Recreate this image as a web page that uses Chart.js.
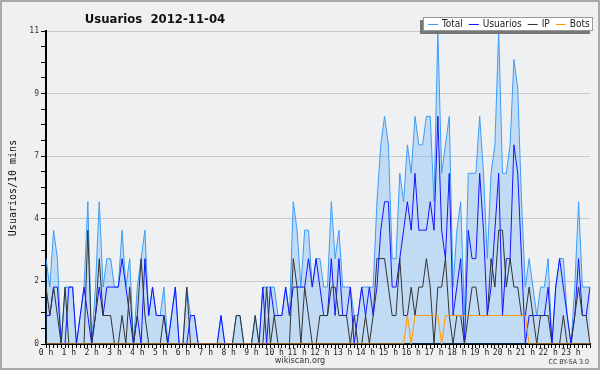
<!DOCTYPE html>
<html>
<head>
<meta charset="utf-8">
<script src="https://cdn.jsdelivr.net/npm/chart.js@4.4.0/dist/chart.umd.min.js"></script>
<style>
  html, body { margin: 0; padding: 0; background: #f0f0f0; }
  #wrap { width: 600px; height: 370px; }
</style>
</head>
<body>
<div id="wrap"><canvas id="chart" width="600" height="370"></canvas></div>
<script>
// values per 10 minutes, from 0h00 to 23h50
let hourLabels = ["0 h","1 h","2 h","3 h","4 h","5 h","6 h","7 h","8 h","9 h","10 h","11 h",
    "12 h","13 h","14 h","15 h","16 h","17 h","18 h","19 h","20 h","21 h","22 h","23 h"];

let total = [
    3,2,4,3,0,2,2,2,0,1, 2,5,0,2,5,2,3,3,2,2, 4,2,3,0,2,3,4,1,2,1,
    1,2,0,1,2,0,0,2,1,1, 0,0,0,0,0,0,1,0,0,0, 1,1,0,0,0,1,0,2,2,2,
    2,1,1,2,1,5,4,2,4,4, 2,3,3,2,2,5,3,4,2,2, 2,1,1,2,2,2,2,5,7,8,
    7,3,3,6,5,7,6,8,7,7, 8,8,5,11,6,7,8,2,4,5, 1,6,6,6,8,6,3,6,7,11,
    6,6,7,10,9,5,2,3,2,1, 2,2,3,0,2,3,3,1,0,2, 5,2,2,2];

let usuarios = [
    1,1,2,2,0,0,2,2,0,1, 2,1,0,1,2,1,2,2,2,2, 3,2,1,0,1,0,3,1,2,1,
    1,1,0,1,2,0,0,0,1,1, 0,0,0,0,0,0,1,0,0,0, 0,0,0,0,0,0,0,2,0,2,
    1,1,1,2,1,2,2,2,2,3, 2,3,2,1,1,3,1,3,1,1, 2,0,1,2,1,2,1,2,4,5,
    5,2,2,3,4,5,4,6,4,4, 4,5,4,8,4,3,6,1,2,3, 0,4,3,3,6,4,1,2,4,6,
    1,3,3,7,6,3,0,1,1,1, 1,1,2,0,2,3,2,1,0,1, 3,1,1,2];

let ip = [
    2,1,2,1,0,2,0,0,0,0, 0,4,0,1,3,1,1,1,0,0, 1,0,2,0,1,3,1,0,0,0,
    0,1,0,0,0,0,0,2,0,0, 0,0,0,0,0,0,0,0,0,0, 1,1,0,0,0,1,0,0,2,0,
    1,0,0,0,0,3,2,0,2,1, 0,0,1,1,1,2,2,1,1,1, 0,1,0,0,1,0,1,3,3,3,
    2,1,1,3,1,1,2,1,2,2, 3,2,0,2,2,3,1,0,1,1, 0,1,2,2,1,1,1,3,2,4,
    4,2,3,2,2,1,1,2,1,0, 1,1,1,0,0,0,1,0,0,1, 2,1,1,0];

let bots = [
    0,0,0,0,0,0,0,0,0,0, 0,0,0,0,0,0,0,0,0,0, 0,0,0,0,0,0,0,0,0,0,
    0,0,0,0,0,0,0,0,0,0, 0,0,0,0,0,0,0,0,0,0, 0,0,0,0,0,0,0,0,0,0,
    0,0,0,0,0,0,0,0,0,0, 0,0,0,0,0,0,0,0,0,0, 0,0,0,0,0,0,0,0,0,0,
    0,0,0,0,0,1,0,1,1,1, 1,1,1,1,0,1,1,1,1,1, 1,1,1,1,1,1,1,1,1,1,
    1,1,1,1,1,1,1,0,0,0, 0,0,0,0,0,0,0,0,0,0, 0,0,0,0];

let yTicks = [0, 2.2, 4.4, 6.6, 8.8, 11];

// slot names "0:00", "0:10", ...
let slots = [];
for (let h = 0; h < 24; h++) {
    for (let m = 0; m < 60; m += 10) {
        slots.push(h + ":" + (m < 10 ? "0" + m : m));
    }
}

const FONT = "'DejaVu Sans Condensed', 'DejaVu Sans', sans-serif";
const MONO = "'DejaVu Sans Mono', monospace";

let decor = {
    id: "decor",
    beforeDraw(chart) {
        let c = chart.ctx;
        let a = chart.chartArea;
        c.save();
        c.fillStyle = "#f0f0f0";
        c.fillRect(0, 0, chart.width, chart.height);
        c.fillStyle = "#eff0f2";
        c.fillRect(a.left, a.top, a.right - a.left, a.bottom - a.top);
        c.restore();
    },
    afterDraw(chart) {
        let c = chart.ctx;
        c.save();
        // outer frame
        c.strokeStyle = "#aaaaaa";
        c.lineWidth = 2;
        c.strokeRect(1, 1, chart.width - 2, chart.height - 2);

        // title
        c.fillStyle = "#111";
        c.font = "bold 13px " + FONT;
        c.textAlign = "center";
        c.textBaseline = "alphabetic";
        c.fillText("Usuarios  2012-11-04", 155, 23);

        // y axis title
        c.font = "10px " + MONO;
        c.translate(13, 188);
        c.rotate(-Math.PI / 2);
        c.textBaseline = "middle";
        c.fillText("Usuarios/10 mins", 0, 0);
        c.setTransform(1, 0, 0, 1, 0, 0);

        // footer
        c.font = "9px " + FONT;
        c.fillStyle = "#333";
        c.textBaseline = "middle";
        c.fillText("wikiscan.org", 300, 361);
        c.font = "7px " + FONT;
        c.textAlign = "right";
        c.fillText("CC BY-SA 3.0", 589, 362);

        // legend box with shadow
        c.fillStyle = "#777";
        c.fillRect(420, 20, 170, 14);
        c.fillStyle = "#fff";
        c.fillRect(423, 17, 170, 14);
        c.strokeStyle = "#999";
        c.lineWidth = 1;
        c.strokeRect(423.5, 17.5, 169, 13);
        c.font = "10px " + FONT;
        c.textAlign = "left";
        c.textBaseline = "middle";
        let x = 428;
        for (let ds of chart.data.datasets) {
            c.strokeStyle = ds.borderColor;
            c.lineWidth = 1;
            c.beginPath();
            c.moveTo(x, 24.5);
            c.lineTo(x + 10, 24.5);
            c.stroke();
            c.fillStyle = "#222";
            c.fillText(ds.label, x + 14, 24);
            x += 14 + c.measureText(ds.label).width + 6;
        }
        c.restore();
    }
};

let chart = new Chart(document.getElementById("chart"), {
    type: "line",
    data: {
        labels: slots,
        datasets: [
            { label: "Total", data: total, borderColor: "#3d9cf5", backgroundColor: "rgba(51,153,255,0.24)",
              fill: "origin", borderWidth: 1, pointRadius: 0, tension: 0, order: 4 },
            { label: "Usuarios", data: usuarios, borderColor: "#1414ff",
              fill: false, borderWidth: 1, pointRadius: 0, tension: 0, order: 3 },
            { label: "IP", data: ip, borderColor: "#333333",
              fill: false, borderWidth: 1, pointRadius: 0, tension: 0, order: 2 },
            { label: "Bots", data: bots, borderColor: "#ff9900",
              fill: false, borderWidth: 1, pointRadius: 0, tension: 0, order: 1 }
        ]
    },
    options: {
        responsive: false,
        animation: false,
        events: [],
        layout: { padding: { left: 0, top: 31, right: 10, bottom: 0 } },
        plugins: { legend: { display: false }, title: { display: false }, tooltip: { enabled: false } },
        scales: {
            x: {
                type: "category",
                offset: false,
                z: 1,
                ticks: {
                    autoSkip: false, maxRotation: 0, minRotation: 0, padding: 0,
                    color: "#222", font: { family: MONO, size: 8 },
                    callback: (v, i) => i % 6 === 0 ? hourLabels[i / 6] : ""
                },
                grid: { drawOnChartArea: false, tickColor: "#000", tickLength: 4 },
                border: { color: "#000", width: 2 },
                afterFit: s => { s.height = 26; }
            },
            y: {
                min: 0,
                max: 11,
                ticks: {
                    stepSize: 0.55, autoSkip: false, padding: 2,
                    color: "#333", font: { family: MONO, size: 8 },
                    callback: (v, i) => i % 4 === 0 ? Math.round(yTicks[i / 4]) : ""
                },
                grid: {
                    color: ctx => ctx.index % 4 === 0 ? "#c8c8c8" : "rgba(0,0,0,0)",
                    tickColor: "#000", tickLength: 5
                },
                border: { color: "#000", width: 2 },
                afterFit: s => { s.width = 46; }
            }
        }
    },
    plugins: [decor]
});
</script>
</body>
</html>
